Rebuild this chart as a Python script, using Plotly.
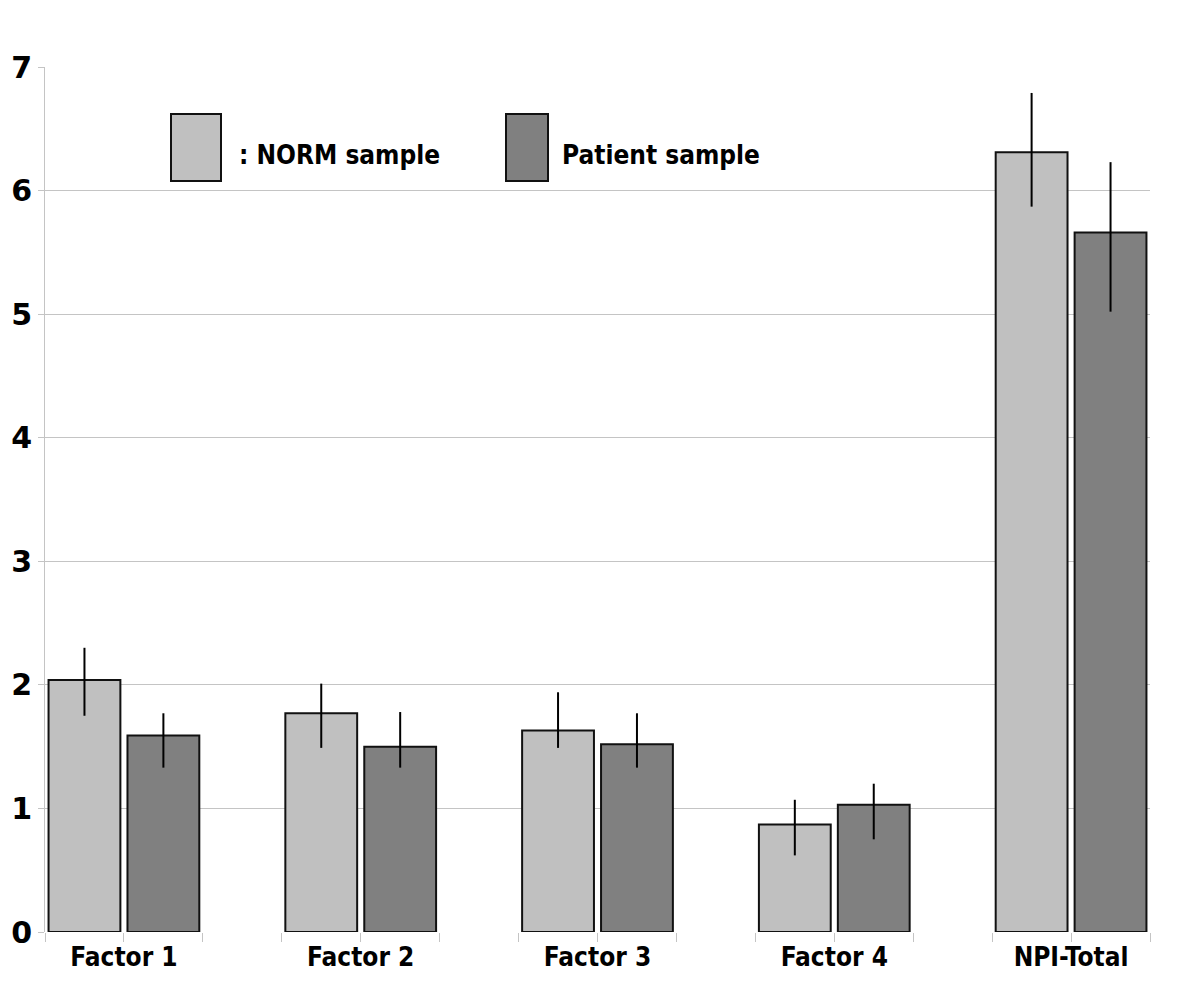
import plotly.graph_objects as go

categories = ["Factor 1", "Factor 2", "Factor 3", "Factor 4", "NPI-Total"]
norm_mean = [2.04, 1.77, 1.63, 0.87, 6.31]
norm_err_plus = [0.26, 0.24, 0.31, 0.20, 0.48]
norm_err_minus = [0.29, 0.28, 0.14, 0.25, 0.44]
patient_mean = [1.59, 1.50, 1.52, 1.03, 5.66]
patient_err_plus = [0.18, 0.28, 0.25, 0.17, 0.57]
patient_err_minus = [0.26, 0.17, 0.19, 0.28, 0.64]
y_ticks = [0, 1, 2, 3, 4, 5, 6, 7]

# page body has an 8px default margin, so the figure is sized/offset to compensate
OFF = 8
W, H = 1200 - OFF, 984 - OFF
L, R, T, B = 45 - OFF, 50, 67 - OFF, 52
x_pos = list(range(len(categories)))

NORM_COLOR = "#c0c0c0"
PAT_COLOR = "#808080"
GRID = "#c4c4c4"
LABEL_FONT = "DejaVu Sans Condensed, DejaVu Sans, sans-serif"

fig = go.Figure()
fig.add_trace(go.Bar(
    x=x_pos, y=norm_mean, name=": NORM sample",
    marker=dict(color=NORM_COLOR, line=dict(color="#111111", width=2)),
    error_y=dict(type="data", symmetric=False, array=norm_err_plus,
                 arrayminus=norm_err_minus, width=0, thickness=2, color="#000000"),
))
fig.add_trace(go.Bar(
    x=x_pos, y=patient_mean, name="Patient sample",
    marker=dict(color=PAT_COLOR, line=dict(color="#111111", width=2)),
    error_y=dict(type="data", symmetric=False, array=patient_err_plus,
                 arrayminus=patient_err_minus, width=0, thickness=2, color="#000000"),
))

def px_x(p):  # screen pixel -> paper x
    return (p - OFF - L) / (W - L - R)

def px_y(p):  # screen pixel -> paper y
    return (H - B - (p - OFF)) / (H - T - B)

# legend drawn as large swatches
for (x0, x1, col, txt, tx) in [(171, 221, NORM_COLOR, ": NORM sample", 237),
                               (506, 548, PAT_COLOR, "Patient sample", 560)]:
    fig.add_shape(type="rect", xref="paper", yref="paper",
                  x0=px_x(x0), x1=px_x(x1), y0=px_y(181), y1=px_y(114),
                  fillcolor=col, line=dict(color="#111111", width=2))
    fig.add_annotation(xref="paper", yref="paper", x=px_x(tx), y=px_y(155),
                       xanchor="left", yanchor="middle", text=txt, showarrow=False,
                       font=dict(family=LABEL_FONT, size=26, color="#000000", weight="bold"))

fig.update_layout(
    width=W, height=H,
    margin=dict(l=L, r=R, t=T, b=B, autoexpand=False),
    plot_bgcolor="white", paper_bgcolor="white",
    barmode="group", bargap=1/3, bargroupgap=0.09,
    showlegend=False,
    xaxis=dict(
        range=[-1/3, len(categories) - 2/3], automargin=False,
        tickvals=x_pos, ticktext=categories,
        ticks="outside", ticklen=9, tickcolor=GRID, tickwidth=1,
        ticklabelstandoff=-7,
        minor=dict(tick0=-1/3, dtick=1/3, ticks="outside", ticklen=9,
                   tickcolor=GRID, tickwidth=1, showgrid=False),
        showgrid=False, zeroline=False, showline=False,
        tickfont=dict(family=LABEL_FONT, size=26, color="#000000", weight="bold"),
    ),
    yaxis=dict(
        range=[0, 7], tickvals=y_ticks, automargin=False,
        showgrid=True, gridcolor=GRID, gridwidth=1,
        zeroline=False, showline=True, linecolor=GRID, linewidth=1,
        ticks="outside", ticklen=6, tickcolor=GRID,
        tickfont=dict(family="DejaVu Sans, sans-serif", size=30, color="#000000", weight="bold"),
    ),
)

fig.write_html("out.html")
